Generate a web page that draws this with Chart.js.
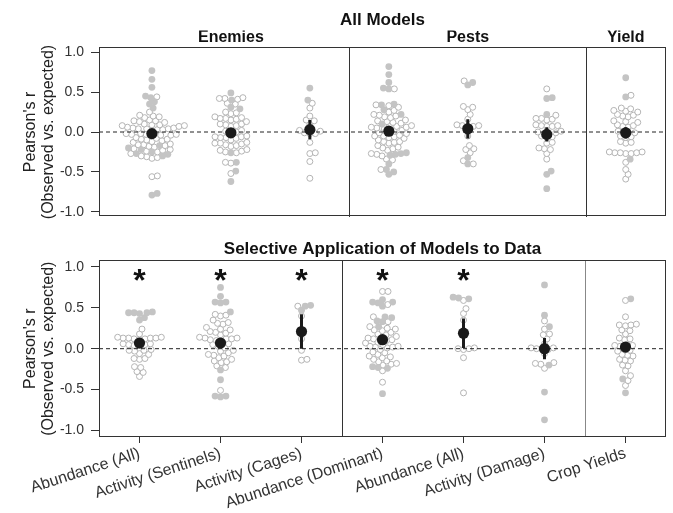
<!DOCTYPE html>
<html lang="en">
<head>
<meta charset="UTF-8">
<title>Pearson's r - observed vs expected</title>
<script src="https://cdn.jsdelivr.net/npm/chart.js"></script>
<style>
  html, body { margin: 0; padding: 0; background: #fff; }
  #wrap { position: relative; width: 673px; height: 513px; }
  canvas { position: absolute; left: 0; }
  #top { top: 0; }
  #bottom { top: 232px; }
</style>
</head>
<body>
<div id="wrap">
  <canvas id="top" width="673" height="232"></canvas>
  <canvas id="bottom" width="673" height="281"></canvas>
</div>
<script>
// ---- data ----
const categories = ['Abundance (All)', 'Activity (Sentinels)', 'Activity (Cages)',
  'Abundance (Dominant)', 'Abundance (All)', 'Activity (Damage)', 'Crop Yields'];
const groups = ['Enemies', 'Pests', 'Yield'];
const groupOf = [0, 0, 0, 1, 1, 1, 2];
const yTicks = [-1, -0.5, 0, 0.5, 1];

// panel A: all models (filled = grey dots, open = hollow circles)
const topFilled = [
  [0.77, 0.66, 0.56, 0.45, 0.43, 0.38, 0.35, 0.30, -0.17, -0.20, -0.22, -0.25, -0.27, -0.28, -0.30, -0.77, -0.79],
  [0.49, 0.40, 0.31, 0.29, -0.26, -0.38, -0.49, -0.62],
  [0.55, 0.40],
  [0.82, 0.72, 0.62, 0.55, 0.54, 0.35, 0.34, 0.28, 0.22, 0.10, -0.26, -0.27, -0.28, -0.29, -0.40, -0.47, -0.50, -0.53],
  [0.62, 0.59, -0.32, -0.40],
  [0.43, 0.42, 0.22, -0.49, -0.53, -0.71],
  [0.68, 0.44, -0.34]
];
const topOpen = [
  [0.44, 0.25, 0.21, 0.19, 0.20, 0.18, 0.15, 0.14, 0.13, 0.12, 0.14, 0.10, 0.09, 0.08, 0.07, 0.09, 0.08, 0.06, 0.05, 0.04,
   0.04, 0.03, 0.05, 0.04, 0.03, 0.02, -0.02, -0.03, -0.03, -0.04, -0.02, -0.03, -0.05, -0.04, -0.07, -0.08, -0.09, -0.10,
   -0.11, -0.09, -0.12, -0.13, -0.15, -0.16, -0.17, -0.18, -0.16, -0.19, -0.21, -0.22, -0.24, -0.25, -0.23, -0.27, -0.30,
   -0.31, -0.32, -0.33, -0.55, -0.56],
  [0.42, 0.42, 0.41, 0.43, 0.36, 0.35, 0.25, 0.24, 0.23, 0.19, 0.18, 0.17, 0.16, 0.15, 0.17, 0.13, 0.10, 0.09, 0.08, 0.10,
   0.07, 0.01, 0.0, -0.01, 0.02, -0.05, -0.06, -0.07, -0.08, -0.06, -0.07, -0.10, -0.13, -0.14, -0.15, -0.16, -0.14, -0.17,
   -0.18, -0.23, -0.24, -0.25, -0.22, -0.26, -0.38, -0.39, -0.52],
  [0.36, 0.30, 0.20, 0.15, 0.14, 0.10, 0.02, 0.01, -0.01, -0.02, -0.02, -0.13, -0.26, -0.27, -0.37, -0.58],
  [0.54, 0.34, 0.33, 0.31, 0.27, 0.25, 0.22, 0.20, 0.19, 0.21, 0.18, 0.14, 0.13, 0.12, 0.15, 0.11, 0.08, 0.07, 0.06, 0.05,
   0.07, 0.04, 0.06, 0.01, 0.0, -0.01, 0.02, -0.02, -0.04, -0.05, -0.06, -0.07, -0.08, -0.05, -0.10, -0.12, -0.13, -0.14,
   -0.12, -0.17, -0.19, -0.20, -0.21, -0.23, -0.27, -0.28, -0.30, -0.34, -0.35, -0.47],
  [0.64, 0.32, 0.31, 0.28, 0.22, 0.16, 0.09, 0.08, 0.07, 0.08, 0.07, -0.05, -0.17, -0.22, -0.21, -0.26, -0.36, -0.40],
  [0.54, 0.21, 0.17, 0.16, 0.15, 0.17, 0.09, 0.08, 0.07, 0.08, 0.07, 0.01, 0.0, -0.01, 0.0, -0.06, -0.05, -0.07, -0.14, -0.13,
   -0.21, -0.20, -0.22, -0.27, -0.34],
  [0.46, 0.30, 0.29, 0.26, 0.27, 0.25, 0.21, 0.20, 0.22, 0.19, 0.14, 0.13, 0.12, 0.08, 0.07, 0.09, 0.06, 0.0, 0.01, -0.01,
   -0.05, -0.07, -0.06, -0.12, -0.14, -0.13, -0.26, -0.26, -0.25, -0.27, -0.26, -0.25, -0.27, -0.38, -0.47, -0.53, -0.59]
];
const topMean = [-0.02, -0.01, 0.03, 0.01, 0.04, -0.03, -0.01];
const topCI = [0.05, 0.04, 0.12, 0.05, 0.12, 0.09, 0.07];

// panel B: selective application of models to data
const selFilled = [
  [0.44, 0.44, 0.43, 0.45, 0.44, 0.38, 0.35],
  [0.75, 0.64, 0.57, 0.56, 0.57, 0.45, -0.26, -0.38, -0.58, -0.59, -0.58],
  [0.53, 0.52, 0.47],
  [0.60, 0.57, 0.56, 0.57, 0.52, 0.39, 0.38, 0.34, 0.33, 0.27, -0.22, -0.23, -0.24, -0.55],
  [0.63, 0.62, 0.61],
  [0.78, 0.41, 0.27, -0.20, -0.53, -0.87],
  [0.61, -0.37, -0.54]
];
const selOpen = [
  [0.24, 0.18, 0.13, 0.14, 0.12, 0.13, 0.14, 0.12, 0.13, 0.11, 0.13, 0.05, 0.06, 0.04, 0.05, 0.06, 0.04, -0.02, -0.01, -0.03,
   -0.02, -0.06, -0.07, -0.12, -0.13, -0.12, -0.22, -0.23, -0.29, -0.28, -0.34],
  [0.41, 0.40, 0.42, 0.35, 0.31, 0.30, 0.32, 0.26, 0.24, 0.23, 0.21, 0.20, 0.19, 0.17, 0.14, 0.13, 0.12, 0.11, 0.13, 0.12,
   0.10, 0.08, 0.06, 0.05, 0.03, 0.01, -0.02, -0.03, -0.05, -0.07, -0.08, -0.09, -0.11, -0.13, -0.15, -0.16, -0.17, -0.21,
   -0.23, -0.51],
  [0.52, 0.40, 0.22, 0.12, -0.02, -0.13, -0.14],
  [0.70, 0.70, 0.54, 0.39, 0.33, 0.27, 0.25, 0.23, 0.22, 0.24, 0.20, 0.18, 0.17, 0.15, 0.13, 0.12, 0.11, 0.13, 0.10, 0.08,
   0.07, 0.05, 0.03, 0.02, 0.01, 0.02, 0.03, -0.01, -0.04, -0.05, -0.07, -0.10, -0.11, -0.09, -0.13, -0.15, -0.16, -0.18,
   -0.20, -0.19, -0.27, -0.41],
  [0.59, 0.49, 0.43, 0.35, 0.22, 0.0, 0.01, -0.01, 0.0, -0.11, -0.54],
  [0.34, 0.24, 0.18, 0.17, 0.12, 0.06, 0.0, 0.01, -0.01, 0.0, 0.01, -0.06, -0.18, -0.17, -0.19, -0.24],
  [0.59, 0.39, 0.29, 0.28, 0.30, 0.29, 0.22, 0.23, 0.18, 0.12, 0.13, 0.11, 0.04, 0.05, 0.03, 0.04, -0.02, -0.01, -0.03, -0.08,
   -0.07, -0.09, -0.14, -0.13, -0.15, -0.20, -0.21, -0.27, -0.33, -0.39, -0.45]
];
const selMean = [0.07, 0.07, 0.21, 0.11, 0.19, 0.00, 0.02];
const selCI = [0.06, 0.05, 0.21, 0.05, 0.18, 0.13, 0.06];
const selStars = [1, 1, 1, 1, 1, 0, 0];
const starLevel = 0.93;

// ---- helpers ----
Chart.defaults.font.family = "'Liberation Sans', Arial, Helvetica, sans-serif";
Chart.defaults.color = '#333';

const groupCenters = groups.map((g, gi) => {
  const idx = groupOf.map((v, i) => v === gi ? i : -1).filter(i => i >= 0);
  return idx.reduce((a, b) => a + b, 0) / idx.length;
});
const dividers = [];
for (let i = 1; i < groupOf.length; i++) {
  if (groupOf[i] !== groupOf[i - 1]) dividers.push(i - 0.5);
}

// beeswarm: place each point nearest the centre line without overlap (pixel space)
function swarm(filled, open, pxX, pxY, d) {
  const pts = filled.map(v => ({ v, f: true })).concat(open.map(v => ({ v, f: false })));
  pts.sort((a, b) => a.v - b.v);
  const placed = [];
  pts.forEach(p => {
    const y = p.v * pxY;
    const cands = [0];
    placed.forEach(q => {
      const dy = Math.abs(q.y - y);
      if (dy < d) {
        const dx = Math.sqrt(d * d - dy * dy);
        cands.push(q.x + dx, q.x - dx);
      }
    });
    cands.sort((a, b) => Math.abs(a) - Math.abs(b));
    let x = 0;
    for (const c of cands) {
      if (placed.every(q => (q.x - c) ** 2 + (q.y - y) ** 2 >= d * d - 0.01)) { x = c; break; }
    }
    placed.push({ x, y });
    p.off = x / pxX;
  });
  return pts;
}

const frame = {
  id: 'frame',
  afterDraw(chart) {
    const { ctx, chartArea: a } = chart;
    ctx.save();
    ctx.strokeStyle = '#333';
    ctx.lineWidth = 1;
    ctx.strokeRect(Math.round(a.left) + 0.5, Math.round(a.top) + 0.5,
      Math.round(a.right - a.left) - 1, Math.round(a.bottom - a.top) - 1);
    ctx.restore();
  }
};

function makePanel(id, cfg) {
  const { filled, open, mean, ci, xMin, xMax, yLim, pxX, pxY, title, titlePad } = cfg;
  const fPts = [], oPts = [], meanPts = [], errPts = [];
  categories.forEach((c, i) => {
    swarm(filled[i], open[i], pxX, pxY, 5.5).forEach(p => {
      (p.f ? fPts : oPts).push({ x: i + p.off, y: p.v });
    });
    meanPts.push({ x: i, y: mean[i] });
    errPts.push({ x: i, y: mean[i] - ci[i] }, { x: i, y: mean[i] + ci[i] }, { x: i, y: null });
  });

  const scales = {
    x: {
      type: 'linear', min: xMin, max: xMax, position: 'bottom',
      display: !!cfg.showLabels,
      afterBuildTicks: s => { s.ticks = categories.map((c, i) => ({ value: i })); },
      afterFit: s => { s.height = cfg.showLabels ? 76 : 0; },
      ticks: {
        callback: v => categories[v], font: { size: 16 }, color: '#333',
        minRotation: 18, maxRotation: 18, autoSkip: false, padding: 1
      },
      grid: { drawOnChartArea: false, tickLength: 6, tickColor: '#333' },
      border: { display: false }
    },
    xd: {
      type: 'linear', min: xMin, max: xMax, position: 'bottom',
      afterBuildTicks: s => { s.ticks = dividers.map(v => ({ value: v })); },
      afterFit: s => { s.height = 0; },
      ticks: { display: false },
      grid: {
        drawTicks: false, lineWidth: 1,
        color: c => (cfg.greyLast && c.tick && c.tick.value === dividers[dividers.length - 1]) ? '#888' : '#333'
      },
      border: { display: false }
    },
    y: {
      type: 'linear', min: -yLim, max: yLim,
      afterBuildTicks: s => { s.ticks = yTicks.map(v => ({ value: v })); },
      afterFit: s => { s.width = 99; },
      ticks: { callback: v => v.toFixed(1), font: { size: 14 }, color: '#333', padding: 7 },
      grid: { drawOnChartArea: false, tickLength: 8, tickColor: '#333' },
      border: { display: false },
      title: {
        display: true, text: ["Pearson's r", '(Observed vs. expected)'],
        font: { size: 16, lineHeight: 1.15 }, color: '#222', padding: { top: 21, bottom: 0 }
      }
    }
  };
  if (cfg.groupLabels) {
    scales.xTop = {
      type: 'linear', min: xMin, max: xMax, position: 'top',
      afterBuildTicks: s => { s.ticks = groupCenters.map(v => ({ value: v })); },
      afterFit: s => { s.height = 17; },
      ticks: {
        callback: (v, i) => groups[i], font: { size: 16, weight: 'bold' }, color: '#111',
        padding: 0, maxRotation: 0, autoSkip: false
      },
      grid: { display: false, drawTicks: false },
      border: { display: false }
    };
  }

  const plugins = [frame];
  if (cfg.stars) {
    plugins.push({
      id: 'stars',
      afterDatasetsDraw(chart) {
        const { ctx, scales: { x, y } } = chart;
        ctx.save();
        ctx.fillStyle = '#111';
        ctx.font = "bold 32px 'Liberation Sans', Arial, sans-serif";
        ctx.textAlign = 'center';
        ctx.textBaseline = 'alphabetic';
        cfg.stars.forEach((s, i) => {
          if (s) ctx.fillText('*', x.getPixelForValue(i), y.getPixelForValue(starLevel) + 18.5);
        });
        ctx.restore();
      }
    });
  }

  return new Chart(document.getElementById(id), {
    type: 'scatter',
    data: {
      datasets: [
        { data: meanPts, pointRadius: 5.6, backgroundColor: '#1a1a1a', borderWidth: 0, order: 0 },
        { type: 'line', data: errPts, borderColor: '#1a1a1a', borderWidth: 3, pointRadius: 0,
          spanGaps: false, fill: false, order: 1 },
        { type: 'line', data: [{ x: xMin, y: 0 }, { x: xMax, y: 0 }], borderColor: '#222', borderWidth: 1,
          borderDash: [4, 3], pointRadius: 0, fill: false, order: 2 },
        { data: fPts, pointRadius: 3.4, backgroundColor: '#c4c4c4', borderWidth: 0, order: 3 },
        { data: oPts, pointRadius: 3, backgroundColor: '#fff', borderColor: '#b4b4b4', borderWidth: 1, order: 4 }
      ]
    },
    options: {
      responsive: false,
      animation: false,
      events: [],
      layout: { padding: { left: 0, right: 7, top: 0, bottom: cfg.padBottom }, autoPadding: false },
      plugins: {
        legend: { display: false },
        tooltip: { enabled: false },
        title: {
          display: true, text: title, fullSize: false, color: '#111',
          font: { size: 17, weight: 'bold', lineHeight: 1.2 }, padding: titlePad
        }
      },
      scales
    },
    plugins
  });
}

makePanel('top', {
  filled: topFilled, open: topOpen, mean: topMean, ci: topCI,
  xMin: -0.67, xMax: 6.51, yLim: 1.06, pxX: 79, pxY: 82.5,
  title: 'All Models', titlePad: { top: 10, bottom: 0 }, groupLabels: true,
  showLabels: false, padBottom: 10
});
makePanel('bottom', {
  filled: selFilled, open: selOpen, mean: selMean, ci: selCI,
  xMin: -0.5, xMax: 6.5, yLim: 1.08, pxX: 81, pxY: 81.7,
  title: 'Selective Application of Models to Data', titlePad: { top: 7, bottom: 1 },
  showLabels: true, padBottom: 0, stars: selStars, greyLast: true
});
</script>
</body>
</html>
